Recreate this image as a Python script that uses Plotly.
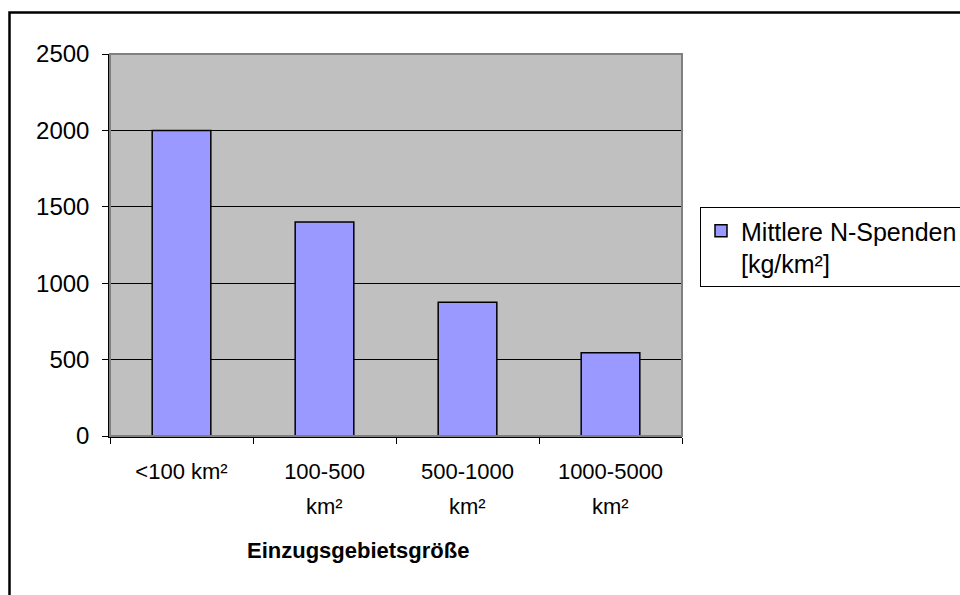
import plotly.graph_objects as go

categories = ["<100 km²", "100-500 km²", "500-1000 km²", "1000-5000 km²"]
tick_line1 = ["<100 km²", "100-500", "500-1000", "1000-5000"]
tick_line2 = ["", "km²", "km²", "km²"]
values = [2000, 1400, 875, 545]
series_name = "Mittlere N-Spenden<br>[kg/km²]"
x_title = "Einzugsgebietsgröße"
y_ticks = [0, 500, 1000, 1500, 2000, 2500]

W, H = 960, 595
L, R, T, B = 110, 682, 54, 436
pw, ph = R - L, B - T

def px(xp):
    return (xp - L) / pw

def py(yp):
    return 1 - (yp - T) / ph

FONT = "Liberation Sans, Arial, sans-serif"

fig = go.Figure()
fig.add_trace(go.Bar(
    x=categories, y=values, name=series_name,
    marker=dict(color="#9999FF", line=dict(color="black", width=1.5)),
    width=0.41, showlegend=True,
))

annotations = []
for c, t2 in zip(categories, tick_line2):
    if t2:
        annotations.append(dict(x=c, xref="x", y=py(506), yref="paper", text=t2,
                                showarrow=False, yanchor="middle", xanchor="center",
                                font=dict(family=FONT, size=22, color="black")))
annotations.append(dict(x=px(358), xref="paper", y=py(550), yref="paper", text="<b>" + x_title + "</b>",
                        showarrow=False, yanchor="middle", xanchor="center",
                        font=dict(family=FONT, size=22, color="black")))

shapes = [
    dict(type="rect", xref="paper", yref="paper", x0=0, x1=1, y0=0, y1=1,
         line=dict(color="#808080", width=2), layer="above"),
    dict(type="rect", xref="paper", yref="paper", x0=px(9.5), x1=px(1100), y0=py(800), y1=py(12.5),
         line=dict(color="black", width=2.5), layer="above"),
]

fig.update_layout(
    width=W, height=H,
    margin=dict(l=L, r=W - R, t=T, b=H - B, pad=0),
    paper_bgcolor="white", plot_bgcolor="#C0C0C0",
    font=dict(family=FONT, size=22, color="black"),
    bargap=0.59,
    xaxis=dict(
        type="category", tickmode="array", tickvals=categories, ticktext=tick_line1,
        tickson="boundaries", ticks="outside", ticklen=6, tickcolor="black", tickwidth=1,
        showline=True, linecolor="black", linewidth=1.5, showgrid=False,
        tickfont=dict(family=FONT, size=22, color="black"),
        ticklabelstandoff=15,
    ),
    yaxis=dict(
        range=[0, 2500], tickvals=y_ticks, ticks="outside", ticklen=6, tickcolor="black",
        showline=True, linecolor="black", linewidth=1.5,
        showgrid=True, gridcolor="black", gridwidth=1, zeroline=False,
        tickfont=dict(family=FONT, size=24, color="black"),
        ticklabelstandoff=8,
    ),
    legend=dict(
        xref="container", yref="container",
        x=700 / W, y=1 - 207 / H, xanchor="left", yanchor="top",
        bgcolor="white", bordercolor="black", borderwidth=1,
        font=dict(family=FONT, size=25, color="black"),
        valign="top", itemwidth=30,
    ),
    annotations=annotations,
    shapes=shapes,
)

fig.write_html("out.html", config={"displayModeBar": False},
               post_script="document.body.style.margin='0px';")
